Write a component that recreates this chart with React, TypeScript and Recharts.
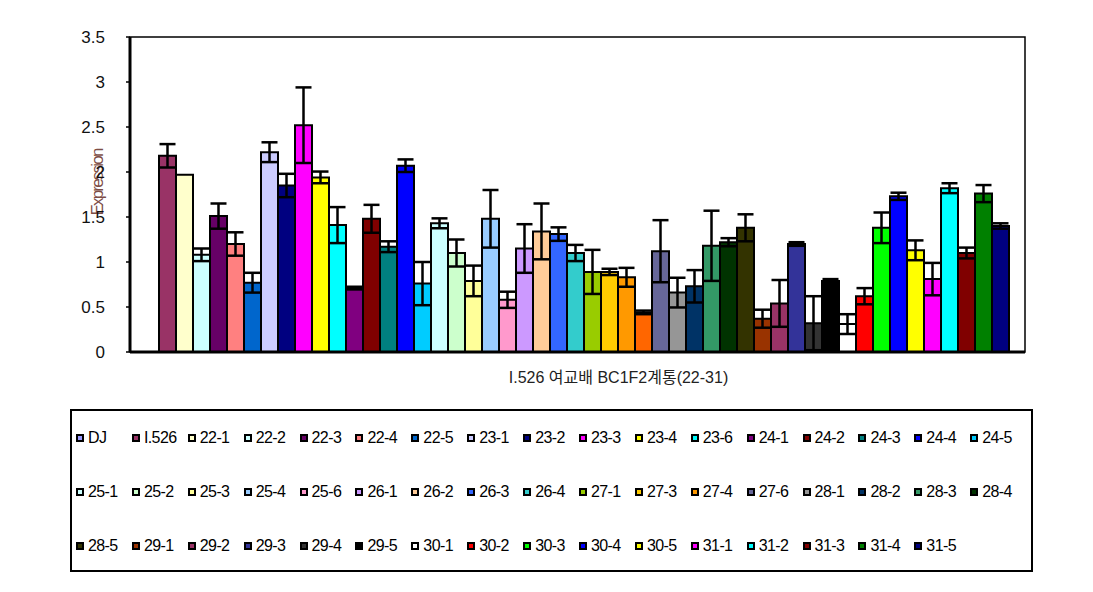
import { BarChart, Bar, XAxis, YAxis, ErrorBar, Legend, ReferenceArea, Label } from "recharts";

// 계통별 발현량 (평균 ± 표준오차)
const lines = [
  "DJ", "I.526", "22-1", "22-2", "22-3", "22-4", "22-5", "23-1", "23-2", "23-3", "23-4", "23-6",
  "24-1", "24-2", "24-3", "24-4", "24-5", "25-1", "25-2", "25-3", "25-4", "25-6", "26-1", "26-2",
  "26-3", "26-4", "27-1", "27-3", "27-4", "27-5", "27-6", "28-1", "28-2", "28-3", "28-4", "28-5",
  "29-1", "29-2", "29-3", "29-4", "29-5", "30-1", "30-2", "30-3", "30-4", "30-5", "31-1", "31-2",
  "31-3", "31-4", "31-5",
];

const means = [
  null, 2.18, 1.97, 1.08, 1.51, 1.2, 0.77, 2.22, 1.85, 2.52, 1.94, 1.41,
  0.71, 1.48, 1.17, 2.07, 0.76, 1.43, 1.1, 0.79, 1.48, 0.58, 1.15, 1.34,
  1.31, 1.1, 0.89, 0.89, 0.83, 0.44, 1.12, 0.66, 0.73, 1.18, 1.22, 1.38,
  0.37, 0.54, 1.2, 0.32, 0.79, 0.31, 0.62, 1.38, 1.73, 1.13, 0.81, 1.82,
  1.1, 1.76, 1.4,
];

const errors = [
  null, 0.13, 0, 0.07, 0.14, 0.13, 0.11, 0.11, 0.13, 0.42, 0.065, 0.2,
  0.015, 0.155, 0.06, 0.07, 0.24, 0.055, 0.15, 0.17, 0.32, 0.09, 0.27, 0.31,
  0.075, 0.09, 0.245, 0.035, 0.105, 0.02, 0.345, 0.165, 0.18, 0.39, 0.045, 0.15,
  0.1, 0.26, 0.02, 0.3, 0.02, 0.11, 0.09, 0.17, 0.04, 0.11, 0.18, 0.055,
  0.06, 0.095, 0.03,
];

const barColors = [
  "#9999FF", "#993366", "#FFFFCC", "#CCFFFF", "#660066", "#FF8080", "#0066CC", "#CCCCFF", "#000080",
  "#FF00FF", "#FFFF00", "#00FFFF", "#800080", "#800000", "#008080", "#0000FF", "#00CCFF", "#CCFFFF",
  "#CCFFCC", "#FFFF99", "#99CCFF", "#FF99CC", "#CC99FF", "#FFCC99", "#3366FF", "#33CCCC", "#99CC00",
  "#FFCC00", "#FF9900", "#FF6600", "#666699", "#969696", "#003366", "#339966", "#003300", "#333300",
  "#993300", "#993366", "#333399", "#333333", "#000000", "#FFFFFF", "#FF0000", "#00FF00", "#0000FF",
  "#FFFF00", "#FF00FF", "#00FFFF", "#800000", "#008000", "#000080",
];

// 범례에 없는 계열
const hiddenInLegend = ["27-5"];

const groupLabel = "I.526 여교배 BC1F2계통(22-31)";
const yTitle = "Expression";
const yTicks = [0, 0.5, 1, 1.5, 2, 2.5, 3, 3.5];

const row: Record<string, string | number | null> = { group: groupLabel };
lines.forEach((_, i) => {
  row[`s${i}`] = means[i];
  row[`e${i}`] = errors[i];
});
const chartData = [row];

const YTitle = ({ viewBox }: any) => {
  const cx = viewBox.x + viewBox.width / 2 + 32;
  const cy = viewBox.y + viewBox.height / 2 - 12;
  return (
    <text
      x={cx}
      y={cy}
      transform={`rotate(-90 ${cx} ${cy})`}
      textAnchor="middle"
      dominantBaseline="central"
      fill="#7d4d45"
      fontSize={17}
      letterSpacing={-1.8}
    >
      {yTitle}
    </text>
  );
};

const LegendBox = ({ payload }: any) => {
  const items = [...(payload ?? [])]
    .filter((p: any) => !hiddenInLegend.includes(p.value))
    .sort((a, b) => Number(String(a.dataKey).slice(1)) - Number(String(b.dataKey).slice(1)));
  return (
    <div
      style={{
        boxSizing: "border-box",
        width: 963,
        height: 163,
        border: "2px solid #000",
        paddingLeft: 4,
        display: "grid",
        gridTemplateColumns: "repeat(17, 55.9px)",
        gridAutoRows: "54px",
        alignItems: "center",
        fontSize: 16,
        letterSpacing: -0.6,
        color: "#000",
        background: "#fff",
      }}
    >
      {items.map((p: any) => {
        const idx = Number(String(p.dataKey).slice(1));
        return (
          <div key={p.dataKey} style={{ display: "flex", alignItems: "center", whiteSpace: "nowrap" }}>
            <span
              style={{
                display: "inline-block",
                boxSizing: "border-box",
                width: 8,
                height: 8,
                border: "2px solid #000",
                background: barColors[idx],
              }}
            />
            <span style={{ marginLeft: 4 }}>{p.value}</span>
          </div>
        );
      })}
    </div>
  );
};

export default function App() {
  return (
    <div
      style={{
        position: "absolute",
        left: 0,
        top: 0,
        width: 1093,
        height: 592,
        background: "#fff",
        fontFamily: '"Liberation Sans", "Noto Sans CJK KR", sans-serif',
      }}
    >
      <BarChart
        width={1093}
        height={592}
        data={chartData}
        margin={{ top: 37, right: 68, left: 0, bottom: 20 }}
        barGap={0}
        barCategoryGap={12}
      >
        <ReferenceArea y1={0} y2={3.5} fill="none" stroke="#000" strokeWidth={1.5} />
        <XAxis
          dataKey="group"
          height={57}
          axisLine={{ stroke: "#000", strokeWidth: 3 }}
          tickLine={false}
          tickSize={0}
          tickMargin={20}
          tick={{ fontSize: 16, fill: "#222", dx: 41 }}
        />
        <YAxis
          width={130}
          domain={[0, 3.5]}
          ticks={yTicks}
          axisLine={{ stroke: "#000", strokeWidth: 3 }}
          tickLine={{ stroke: "#000", strokeWidth: 1.5 }}
          tickSize={4}
          tickMargin={21}
          tick={{ fontSize: 17, fill: "#111" }}
        >
          <Label content={<YTitle />} />
        </YAxis>
        <Legend
          verticalAlign="bottom"
          content={<LegendBox />}
          wrapperStyle={{ left: 70, bottom: 20, width: 963, height: 163 }}
        />
        {lines.map((name, i) => (
          <Bar
            key={name}
            dataKey={`s${i}`}
            name={name}
            fill={barColors[i]}
            stroke="#000"
            strokeWidth={2}
            legendType={hiddenInLegend.includes(name) ? "none" : "square"}
            isAnimationActive={false}
          >
            <ErrorBar dataKey={`e${i}`} width={8} stroke="#000" strokeWidth={2.5} />
          </Bar>
        ))}
      </BarChart>
    </div>
  );
}
